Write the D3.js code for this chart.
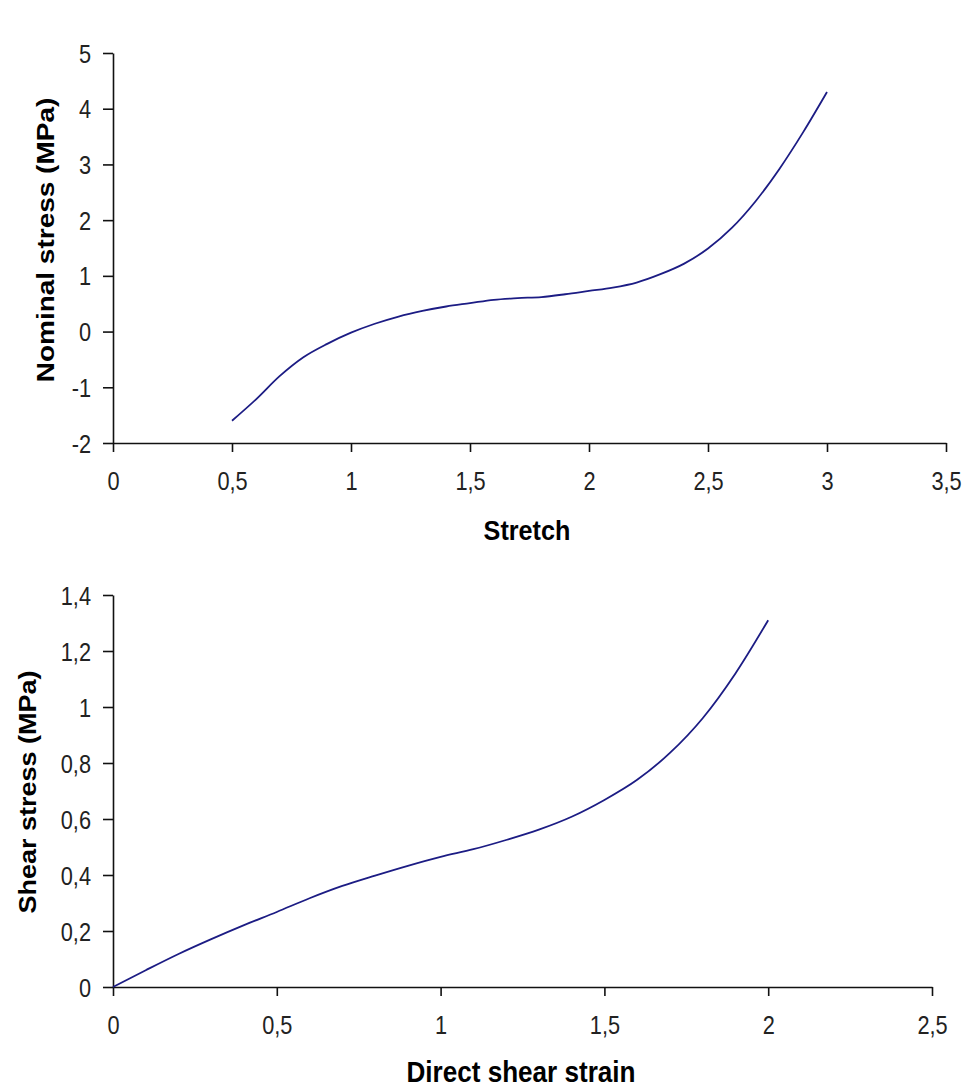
<!DOCTYPE html>
<html>
<head>
<meta charset="utf-8">
<script src="https://cdn.jsdelivr.net/npm/d3@7"></script>
<style>
  html, body { margin: 0; padding: 0; background: #fff; }
  svg { display: block; }
  .tick text { font-family: "Liberation Sans", Arial, sans-serif; }
  .title { font-family: "Liberation Sans", Arial, sans-serif; font-weight: bold; }
</style>
</head>
<body>
<svg id="chart" width="967" height="1088"></svg>
<script>
// Uniaxial test: stretch vs nominal stress (MPa)
const stretch = [0.5, 0.6, 0.7, 0.8, 0.9, 1.0, 1.1, 1.2, 1.3, 1.4, 1.5, 1.6, 1.7,
                 1.8, 1.9, 2.0, 2.1, 2.2, 2.3, 2.4, 2.5, 2.6, 2.7, 2.8, 2.9, 3.0];
const nominalStress = [-1.60, -1.22, -0.80, -0.46, -0.22, -0.02, 0.14, 0.27, 0.37, 0.45, 0.51, 0.57, 0.60,
                       0.62, 0.67, 0.73, 0.79, 0.88, 1.03, 1.22, 1.49, 1.86, 2.34, 2.92, 3.58, 4.30];

// Simple shear test: direct shear strain vs shear stress (MPa)
const shearStrain = [0, 0.1, 0.2, 0.3, 0.4, 0.5, 0.6, 0.7, 0.8, 0.9, 1.0,
                     1.1, 1.2, 1.3, 1.4, 1.5, 1.6, 1.7, 1.8, 1.9, 2.0];
const shearStress = [0, 0.060, 0.118, 0.171, 0.221, 0.268, 0.317, 0.361, 0.398, 0.433, 0.465,
                     0.492, 0.525, 0.562, 0.608, 0.668, 0.740, 0.836, 0.960, 1.120, 1.310];

// Tick values and labels (decimal comma)
const topXTicks = [0, 0.5, 1, 1.5, 2, 2.5, 3, 3.5];
const topYTicks = [-2, -1, 0, 1, 2, 3, 4, 5];
const botXTicks = [0, 0.5, 1, 1.5, 2, 2.5];
const botYTicks = [0, 0.2, 0.4, 0.6, 0.8, 1, 1.2, 1.4];
const fmt = v => String(v).replace(".", ",");

const svg = d3.select("#chart");
const SQ = 0.87;           // horizontal squeeze of lettering
const LINE = "#1c1c84";

function drawPanel(cfg) {
  const x = d3.scaleLinear().domain(cfg.xDomain).range(cfg.xRange);
  const y = d3.scaleLinear().domain(cfg.yDomain).range(cfg.yRange);
  const g = svg.append("g");

  // x axis
  const xa = g.append("g")
    .attr("transform", `translate(0,${cfg.yRange[0]})`)
    .call(d3.axisBottom(x).tickValues(cfg.xTicks).tickFormat(fmt).tickSize(9).tickSizeOuter(0));
  // y axis
  const ya = g.append("g")
    .attr("transform", `translate(${cfg.xRange[0]},0)`)
    .call(d3.axisLeft(y).tickValues(cfg.yTicks).tickFormat(fmt).tickSize(10).tickSizeOuter(0));

  [xa, ya].forEach(a => {
    a.select(".domain").attr("stroke", "#111").attr("stroke-width", 1.6);
    a.selectAll(".tick line").attr("stroke", "#111").attr("stroke-width", 1.6);
    a.selectAll(".tick text").attr("fill", "#222").attr("font-size", 25).attr("dy", null);
  });
  xa.selectAll(".tick text")
    .attr("x", 0).attr("y", 0)
    .attr("text-anchor", "middle")
    .attr("transform", `translate(0,${cfg.xLabelBase}) scale(${SQ},1)`);
  ya.selectAll(".tick text")
    .attr("x", 0).attr("y", 0)
    .attr("text-anchor", "end")
    .attr("transform", `translate(-22,9) scale(${SQ},1)`);

  // curve
  const pts = cfg.xs.map((v, i) => [v, cfg.ys[i]]);
  g.append("path")
    .datum(pts)
    .attr("fill", "none")
    .attr("stroke", LINE)
    .attr("stroke-width", 1.8)
    .attr("d", d3.line().x(d => x(d[0])).y(d => y(d[1])).curve(d3.curveMonotoneX));

  // axis titles
  g.append("text").attr("class", "title")
    .attr("font-size", cfg.xTitleSize)
    .attr("text-anchor", "middle")
    .attr("transform", `translate(${cfg.xTitle[0]},${cfg.xTitle[1]}) scale(0.9,1)`)
    .text(cfg.xLabel);
  g.append("text").attr("class", "title")
    .attr("font-size", cfg.yTitleSize)
    .attr("text-anchor", "middle")
    .attr("transform", `translate(${cfg.yTitle[0]},${cfg.yTitle[1]}) scale(0.88,1) rotate(-90)`)
    .text(cfg.yLabel);
}

drawPanel({
  xDomain: [0, 3.5], xRange: [113, 946],
  yDomain: [-2, 5], yRange: [443, 53],
  xTicks: topXTicks, yTicks: topYTicks,
  xLabelBase: 47,
  xs: stretch, ys: nominalStress,
  xLabel: "Stretch", xTitle: [527, 540], xTitleSize: 28,
  yLabel: "Nominal stress (MPa)", yTitle: [54, 240], yTitleSize: 28
});

drawPanel({
  xDomain: [0, 2.5], xRange: [113, 932],
  yDomain: [0, 1.4], yRange: [987, 595],
  xTicks: botXTicks, yTicks: botYTicks,
  xLabelBase: 47,
  xs: shearStrain, ys: shearStress,
  xLabel: "Direct shear strain", xTitle: [521, 1082], xTitleSize: 29,
  yLabel: "Shear stress (MPa)", yTitle: [36, 792], yTitleSize: 27
});
</script>
</body>
</html>
